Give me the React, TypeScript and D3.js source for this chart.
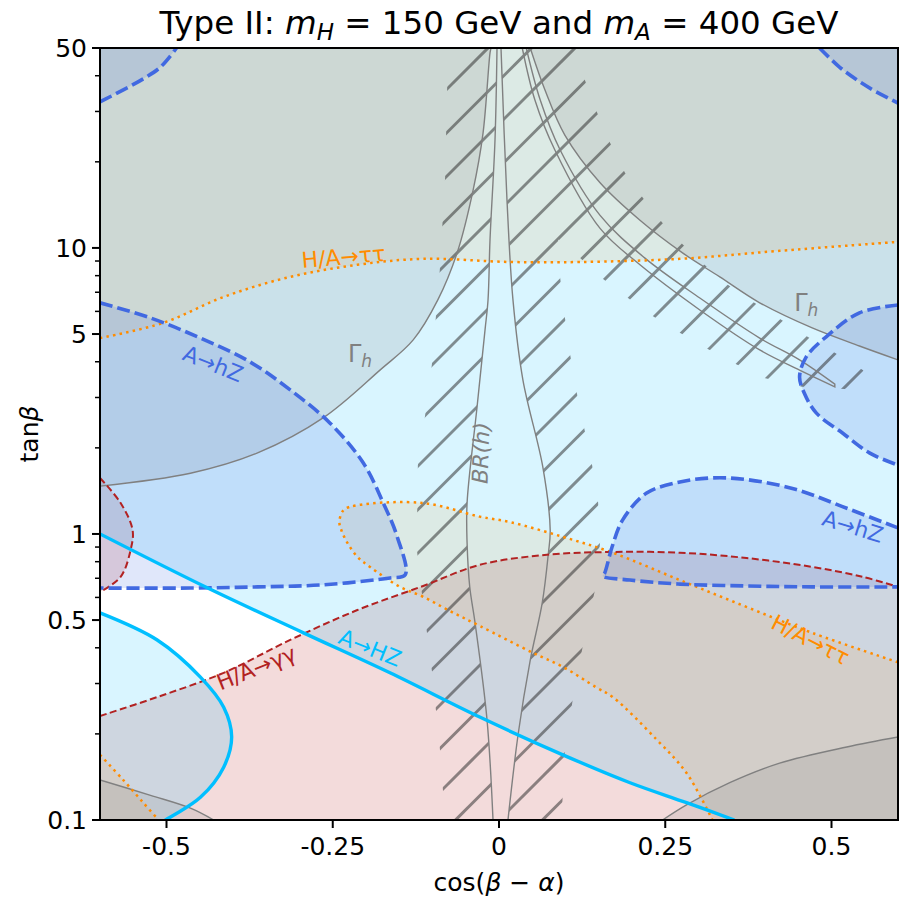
import React from "react";
import * as d3 from "d3";

type P = [number, number];

// ---- axes ----
const xDomain: P = [-0.6, 0.6];
const yDomain: P = [0.1, 50];
const xTicks = [-0.5, -0.25, 0, 0.25, 0.5];
const xTickLabels = ["-0.5", "-0.25", "0", "0.25", "0.5"];
const yTicks = [0.1, 0.5, 1, 5, 10, 50];
const yTickLabels = ["0.1", "0.5", "1", "5", "10", "50"];
const yMinorTicks = [0.2, 0.3, 0.4, 0.6, 0.7, 0.8, 0.9, 2, 3, 4, 6, 7, 8, 9, 20, 30, 40];

// ---- H/A -> tau tau (excluded regions) ----
const tauUpper: P[] = [[-0.6, 4.84], [-0.505, 5.47], [-0.414, 6.74], [-0.314, 7.92], [-0.213, 8.73], [-0.114, 9.16], [0.017, 8.93], [0.122, 8.93], [0.272, 9.16], [0.422, 9.77], [0.6, 10.5]];
const tauBand: P[] = [[0.6, 0.356], [0.471, 0.451], [0.372, 0.556], [0.272, 0.69], [0.171, 0.86], [0.096, 0.977], [0.017, 1.1], [-0.029, 1.15], [-0.114, 1.283], [-0.213, 1.26], [-0.234, 1.21], [-0.24, 1.1], [-0.237, 1.03], [-0.228, 0.931], [-0.213, 0.832], [-0.194, 0.767], [-0.149, 0.653], [-0.114, 0.603], [-0.074, 0.538], [-0.029, 0.477], [0.051, 0.384], [0.096, 0.343], [0.147, 0.29], [0.171, 0.269], [0.237, 0.191], [0.282, 0.146], [0.321, 0.1]];
const tauBottomLeft: P[] = [[-0.6, 0.169], [-0.565, 0.138], [-0.535, 0.115], [-0.512, 0.1]];

// ---- A -> HZ ----
const hzUpper: P[] = [[-0.6, 1.0], [-0.438, 0.647], [-0.294, 0.451], [-0.164, 0.327], [-0.029, 0.229], [0.096, 0.169], [0.197, 0.135], [0.282, 0.115], [0.354, 0.1]];
const hzLower: P[] = [[-0.6, 0.53], [-0.514, 0.426], [-0.449, 0.316], [-0.414, 0.248], [-0.402, 0.195], [-0.414, 0.153], [-0.449, 0.12], [-0.502, 0.1]];

// ---- H/A -> gamma gamma ----
const aaMain: P[] = [[-0.6, 0.231], [-0.514, 0.269], [-0.414, 0.327], [-0.314, 0.426], [-0.213, 0.542], [-0.114, 0.658], [-0.029, 0.78], [0.072, 0.846], [0.171, 0.865], [0.272, 0.86], [0.372, 0.824], [0.471, 0.767], [0.547, 0.708], [0.6, 0.653]];
const aaLeft: P[] = [[-0.6, 1.57], [-0.569, 1.283], [-0.551, 1.033], [-0.554, 0.879], [-0.569, 0.708], [-0.6, 0.627]];

// ---- A -> hZ ----
const hZTopLeft: P[] = [[-0.6, 32.4], [-0.565, 35.7], [-0.535, 39.0], [-0.509, 42.9], [-0.485, 50]];
const hZTopRight: P[] = [[0.482, 50], [0.512, 42.9], [0.538, 38.7], [0.562, 35.7], [0.6, 32.1]];
const hZLeft: P[] = [[-0.6, 6.43], [-0.524, 5.69], [-0.449, 4.84], [-0.374, 3.99], [-0.314, 3.19], [-0.254, 2.44], [-0.204, 1.77], [-0.174, 1.283], [-0.153, 0.977], [-0.141, 0.72], [-0.164, 0.702], [-0.264, 0.664], [-0.363, 0.653], [-0.464, 0.647], [-0.6, 0.647]];
const hZRight: P[] = [[0.6, 1.05], [0.523, 1.23], [0.447, 1.43], [0.372, 1.55], [0.321, 1.57], [0.272, 1.52], [0.222, 1.39], [0.186, 1.12], [0.17, 0.9], [0.159, 0.731], [0.156, 0.713], [0.197, 0.69], [0.272, 0.668], [0.372, 0.658], [0.471, 0.653], [0.6, 0.653]];
const hZUpperRight: P[] = [[0.6, 6.32], [0.542, 5.93], [0.492, 4.89], [0.462, 4.16], [0.452, 3.54], [0.459, 3.11], [0.477, 2.65], [0.517, 2.25], [0.557, 1.92], [0.6, 1.74]];

// ---- Gamma_h ----
const ghLeft: P[] = [[-0.6, 1.47], [-0.464, 1.63], [-0.363, 1.92], [-0.264, 2.55], [-0.179, 3.74], [-0.129, 4.77], [-0.092, 6.58], [-0.063, 9.61], [-0.039, 15.9], [-0.024, 25.2], [-0.0135, 48.1], [-0.012, 50]];
const ghRight: P[] = [[0.047, 50], [0.069, 35.7], [0.099, 24.8], [0.152, 16.9], [0.212, 12.5], [0.276, 9.61], [0.332, 7.92], [0.392, 6.43], [0.471, 5.25], [0.542, 4.54], [0.6, 4.06]];
const sliverUpper: P[] = [[0.041, 50], [0.062, 32.9], [0.092, 22.0], [0.152, 13.0], [0.219, 9.23], [0.302, 6.68], [0.392, 4.84], [0.452, 4.06], [0.505, 3.34]];
const sliverLower: P[] = [[0.035, 50], [0.054, 32.9], [0.084, 22.0], [0.152, 11.7], [0.212, 8.73], [0.302, 6.07], [0.392, 4.4], [0.452, 3.74], [0.505, 3.27]];
const ghBottomLeft: P[] = [[-0.6, 0.138], [-0.524, 0.122], [-0.464, 0.11], [-0.429, 0.1]];
const ghBottomRight: P[] = [[0.246, 0.1], [0.282, 0.113], [0.347, 0.135], [0.422, 0.158], [0.523, 0.18], [0.6, 0.195]];

// ---- BR(h) ----
const brLeft: P[] = [[-0.003, 50], [-0.006, 23.9], [-0.0135, 10.7], [-0.0165, 6.58], [-0.021, 5.17], [-0.033, 2.78], [-0.048, 1.283], [-0.048, 0.931], [-0.044, 0.653], [-0.036, 0.489], [-0.018, 0.224], [-0.009, 0.1]];
const brRight: P[] = [[0.003, 50], [0.012, 14.7], [0.021, 6.58], [0.036, 3.45], [0.066, 1.71], [0.077, 1.033], [0.074, 0.846], [0.065, 0.574], [0.047, 0.362], [0.029, 0.201], [0.0135, 0.1]];

// ---- hatched (h signal strength) region boundary ----
const hatchLeft: P[] = [[-0.075, 50], [-0.078, 36.0], [-0.081, 17.7], [-0.089, 8.38], [-0.101, 3.9], [-0.111, 2.61], [-0.122, 1.74], [-0.123, 1.19], [-0.123, 0.86], [-0.116, 0.622], [-0.101, 0.334], [-0.089, 0.179], [-0.081, 0.1]];
const hatchRight: P[] = [[0.094, 0.1], [0.099, 0.173], [0.111, 0.265], [0.126, 0.406], [0.144, 0.632], [0.152, 0.931], [0.149, 1.29], [0.14, 1.74], [0.128, 2.35], [0.117, 3.11], [0.107, 4.23], [0.099, 5.74], [0.092, 7.85], [0.089, 10.7]];
const hatchDiagLower: P[] = [[0.122, 9.23], [0.156, 7.8], [0.194, 6.68], [0.231, 5.78], [0.272, 5.05], [0.314, 4.43], [0.356, 3.93], [0.399, 3.51], [0.456, 3.27], [0.52, 3.21], [0.56, 3.45]];
const hatchDiagUpper: P[] = [[0.547, 3.74], [0.505, 4.3], [0.464, 4.89], [0.425, 5.6], [0.384, 6.43], [0.344, 7.43], [0.309, 8.73], [0.276, 10.3], [0.245, 12.3], [0.216, 15.0], [0.189, 18.4], [0.167, 23.3], [0.147, 29.9], [0.129, 38.7], [0.117, 50]];

// ---- labels ----
const plainLabels: { text: string; at: P; rot: number; color: string }[] = [
  { text: "H/A→ττ", at: [-0.234, 9.3], rot: -5, color: "darkorange" },
  { text: "H/A→ττ", at: [0.468, 0.426], rot: 27, color: "darkorange" },
  { text: "A→hZ", at: [-0.43, 3.93], rot: 22, color: "royalblue" },
  { text: "A→hZ", at: [0.532, 1.06], rot: 17, color: "royalblue" },
  { text: "A→HZ", at: [-0.194, 0.399], rot: 22, color: "deepskyblue" },
  { text: "H/A→γγ", at: [-0.365, 0.34], rot: -22, color: "firebrick" },
];
const gammaLabels: P[] = [[-0.2, 4.19], [0.471, 6.32]];
const brLabel: P = [-0.027, 1.92];

export default function App() {
  const W = 901, H = 902;
  const left = 100, right = 898, top = 48, bottom = 820;
  const x = d3.scaleLinear().domain(xDomain).range([left, right]);
  const y = d3.scaleLog().domain(yDomain).range([bottom, top]);
  const smooth = d3.line<P>().x(d => x(d[0])).y(d => y(d[1])).curve(d3.curveCatmullRom.alpha(0.5));
  const straight = d3.line<P>().x(d => x(d[0])).y(d => y(d[1]));
  const region = (c: P[], corners: P[] = []) =>
    (smooth(c) as string) + corners.map(p => `L${x(p[0])},${y(p[1])}`).join("") + "Z";
  const join = (a: P[], b: P[]) => (smooth(a) as string) + (smooth(b) as string).replace(/^M/, "L") + "Z";

  const lens = join(brLeft, [...brRight].reverse());
  const sliver = join(sliverUpper, [...sliverLower].reverse());
  const hatchOuter = (straight([...hatchLeft, ...hatchRight, ...hatchDiagLower, ...hatchDiagUpper]) as string) + "Z";

  const hatchLines: number[] = [];
  for (let k = -3; k < 24; k++) hatchLines.push(536 + 43.5 * k);

  const FILL = {
    cyan: { fill: "#00bfff", fillOpacity: 0.15 },
    pink: { fill: "firebrick", fillOpacity: 0.16 },
    orange: { fill: "darkorange", fillOpacity: 0.1 },
    grey: { fill: "gray", fillOpacity: 0.17 },
    blue: { fill: "royalblue", fillOpacity: 0.16 },
  };
  const grayLine = { fill: "none", stroke: "gray", strokeWidth: 1.4 };
  const tauLine = { fill: "none", stroke: "darkorange", strokeWidth: 2.5, strokeDasharray: "2.5,4.2" };
  const aaLine = { fill: "none", stroke: "firebrick", strokeWidth: 2, strokeDasharray: "7,3.5" };
  const hZLine = { fill: "none", stroke: "royalblue", strokeWidth: 3.6, strokeDasharray: "13,5" };
  const HZLine = { fill: "none", stroke: "deepskyblue", strokeWidth: 3.4 };

  return (
    <svg width={W} height={H} style={{ position: "absolute", left: 0, top: 0, background: "white" }}
      fontFamily="DejaVu Sans, sans-serif">
      <defs>
        <clipPath id="plot"><rect x={left} y={top} width={right - left} height={bottom - top} /></clipPath>
        <clipPath id="hatch"><path d={hatchOuter + lens} clipRule="evenodd" /></clipPath>
      </defs>
      <rect x={0} y={0} width={W} height={H} fill="white" />
      <g clipPath="url(#plot)">
        {/* fills */}
        <path d={region(aaMain, [[0.6, 0.1], [-0.6, 0.1]])} {...FILL.pink} />
        <path d={region(aaLeft)} {...FILL.pink} />
        <path d={region(hzUpper, [[0.6, 0.1], [0.6, 50], [-0.6, 50]])} {...FILL.cyan} />
        <path d={region(hzLower, [[-0.6, 0.1]])} {...FILL.cyan} />
        <path d={region(tauUpper, [[0.6, 50], [-0.6, 50]])} {...FILL.orange} />
        <path d={region(tauBand, [[0.6, 0.1]])} {...FILL.orange} />
        <path d={region(tauBottomLeft, [[-0.6, 0.1]])} {...FILL.orange} />
        <path d={region(ghLeft, [[-0.6, 50]])} {...FILL.grey} />
        <path d={region(ghRight, [[0.6, 50]])} {...FILL.grey} />
        <path d={region(ghBottomLeft, [[-0.6, 0.1]])} {...FILL.grey} />
        <path d={region(ghBottomRight, [[0.6, 0.1]])} {...FILL.grey} />
        <path d={region(hZTopLeft, [[-0.6, 50]])} {...FILL.blue} />
        <path d={region(hZTopRight, [[0.6, 50]])} {...FILL.blue} />
        <path d={region(hZLeft)} {...FILL.blue} />
        <path d={region(hZRight)} {...FILL.blue} />
        <path d={region(hZUpperRight)} {...FILL.blue} />

        {/* hatch */}
        <g clipPath="url(#hatch)">
          {hatchLines.map((c, i) => (
            <line key={i} x1={c - 1000} y1={1000} x2={c} y2={0} stroke="#2a2a2a" strokeOpacity={0.52} strokeWidth={3} />
          ))}
        </g>

        {/* lines */}
        <path d={smooth(ghLeft) as string} {...grayLine} />
        <path d={smooth(ghRight) as string} {...grayLine} />
        <path d={sliver} {...grayLine} />
        <path d={smooth(ghBottomLeft) as string} {...grayLine} />
        <path d={smooth(ghBottomRight) as string} {...grayLine} />
        <path d={smooth(brLeft) as string} {...grayLine} />
        <path d={smooth(brRight) as string} {...grayLine} />

        <path d={smooth(tauUpper) as string} {...tauLine} />
        <path d={smooth(tauBand) as string} {...tauLine} />
        <path d={smooth(tauBottomLeft) as string} {...tauLine} />

        <path d={smooth(aaMain) as string} {...aaLine} />
        <path d={smooth(aaLeft) as string} {...aaLine} />

        {[hZTopLeft, hZTopRight, hZLeft, hZRight, hZUpperRight].map((c, i) => (
          <path key={i} d={smooth(c) as string} {...hZLine} />
        ))}

        <path d={smooth(hzUpper) as string} {...HZLine} />
        <path d={smooth(hzLower) as string} {...HZLine} />

        {/* labels */}
        {plainLabels.map((l, i) => (
          <text key={i} transform={`translate(${x(l.at[0])},${y(l.at[1])}) rotate(${l.rot})`}
            textAnchor="middle" dominantBaseline="central" fontSize={22} fill={l.color}>{l.text}</text>
        ))}
        {gammaLabels.map((g, i) => (
          <text key={i} x={x(g[0]) - 6} y={y(g[1]) + 6} fontSize={24} fill="gray" textAnchor="middle">
            Γ<tspan fontSize={17} fontStyle="italic" dy={5}>h</tspan>
          </text>
        ))}
        <text transform={`translate(${x(brLabel[0])},${y(brLabel[1])}) rotate(-88)`} textAnchor="middle"
          dominantBaseline="central" fontSize={22} fill="gray" fontStyle="italic">BR(h)</text>
      </g>

      {/* frame */}
      <rect x={left} y={top} width={right - left} height={bottom - top} fill="none" stroke="black" strokeWidth={2} />

      {/* x axis */}
      {xTicks.map((t, i) => (
        <g key={i}>
          <line x1={x(t)} x2={x(t)} y1={bottom} y2={bottom + 8} stroke="black" strokeWidth={2} />
          <text x={x(t)} y={bottom + 35} textAnchor="middle" fontSize={25}>{xTickLabels[i]}</text>
        </g>
      ))}
      {/* y axis */}
      {yTicks.map((t, i) => (
        <g key={i}>
          <line x1={left - 8} x2={left} y1={y(t)} y2={y(t)} stroke="black" strokeWidth={2} />
          <text x={left - 13} y={y(t)} dy="0.36em" textAnchor="end" fontSize={25}>{yTickLabels[i]}</text>
        </g>
      ))}
      {yMinorTicks.map((t, i) => (
        <line key={i} x1={left - 5} x2={left} y1={y(t)} y2={y(t)} stroke="black" strokeWidth={1.5} />
      ))}

      <text x={(left + right) / 2} y={891} textAnchor="middle" fontSize={25}>
        cos(<tspan fontStyle="italic">β</tspan> − <tspan fontStyle="italic">α</tspan>)
      </text>
      <text transform={`translate(38,${(top + bottom) / 2}) rotate(-90)`} textAnchor="middle" fontSize={25}>
        tan<tspan fontStyle="italic">β</tspan>
      </text>

      <text x={(left + right) / 2} y={34} textAnchor="middle" fontSize={32.5}>
        Type II: <tspan fontStyle="italic">m</tspan><tspan fontStyle="italic" fontSize={23} dy={6}>H</tspan>
        <tspan dy={-6}> = 150 GeV and </tspan><tspan fontStyle="italic">m</tspan>
        <tspan fontStyle="italic" fontSize={23} dy={6}>A</tspan><tspan dy={-6}> = 400 GeV</tspan>
      </text>
    </svg>
  );
}
